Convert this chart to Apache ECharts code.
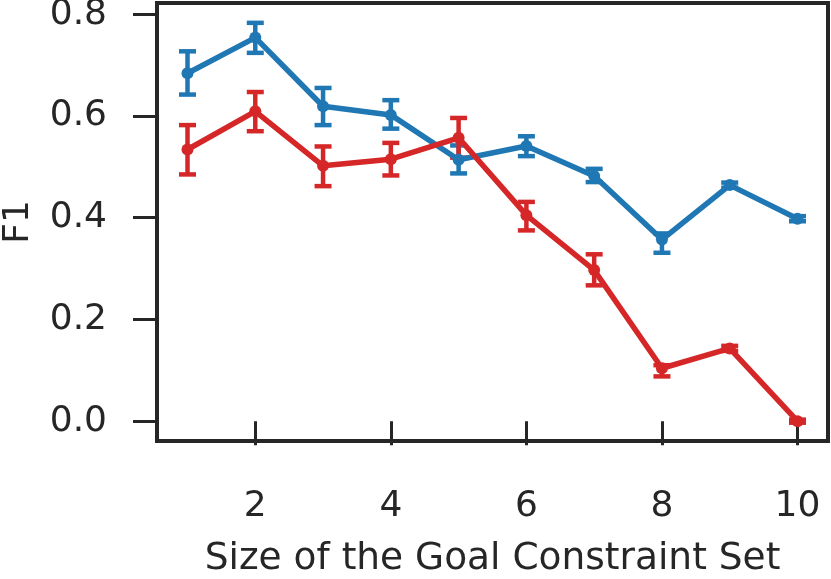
<!DOCTYPE html>
<html><head><meta charset="utf-8">
<script src="https://cdn.jsdelivr.net/npm/echarts@6/dist/echarts.min.js"></script>
<style>html,body{margin:0;padding:0;background:#fff}#c{width:831px;height:579px}</style>
</head><body><div id="c"></div>
<script>
const sizes = [1,2,3,4,5,6,7,8,9,10];
const blueMean = [0.684,0.754,0.619,0.602,0.514,0.541,0.482,0.357,0.464,0.398];
const blueLow  = [0.642,0.724,0.582,0.575,0.487,0.521,0.470,0.331,0.459,0.393];
const blueHigh = [0.727,0.783,0.655,0.631,0.542,0.560,0.496,0.369,0.469,0.403];
const redMean  = [0.534,0.609,0.502,0.515,0.557,0.405,0.297,0.104,0.143,0.000];
const redLow   = [0.485,0.570,0.462,0.483,0.518,0.375,0.267,0.088,0.138,-0.003];
const redHigh  = [0.582,0.647,0.540,0.547,0.596,0.431,0.328,0.110,0.148,0.003];
const xTicks = [2,4,6,8,10];
const yTicks = [0.0,0.2,0.4,0.6,0.8];

const BLUE = '#1f77b4', RED = '#d62728', INK = '#262626';
const FONT = 'DejaVu Sans';

function errSeries(low, high, color) {
  return {
    type: 'custom',
    data: sizes.map((x,i)=>[x, low[i], high[i]]),
    z: 3,
    renderItem: function(params, api) {
      const x = api.value(0);
      const p1 = api.coord([x, api.value(1)]);
      const p2 = api.coord([x, api.value(2)]);
      const hw = 8.5;
      const st = {stroke: color, lineWidth: 4.5};
      return {type:'group', children:[
        {type:'line', shape:{x1:p1[0],y1:p1[1],x2:p2[0],y2:p2[1]}, style:st},
        {type:'line', shape:{x1:p1[0]-hw,y1:p1[1],x2:p1[0]+hw,y2:p1[1]}, style:st},
        {type:'line', shape:{x1:p2[0]-hw,y1:p2[1],x2:p2[0]+hw,y2:p2[1]}, style:st}
      ]};
    }
  };
}
function lineSeries(vals, color) {
  return {
    type:'line', data: sizes.map((x,i)=>[x, vals[i]]),
    symbol:'circle', symbolSize:12, showSymbol:true,
    lineStyle:{color, width:5.5}, itemStyle:{color}, z:4, animation:false
  };
}

const chart = echarts.init(document.getElementById('c'));
chart.setOption({
  animation:false,
  grid:{left:157, right:3, top:3, bottom:138, show:true, borderColor:INK, borderWidth:4, backgroundColor:'#fff', outerBoundsMode:'none', containLabel:false},
  xAxis:{
    type:'value', min:0.55, max:10.45,
    name:'Size of the Goal Constraint Set', nameLocation:'middle', nameGap:99,
    nameTextStyle:{fontFamily:FONT, fontSize:37.5, color:INK},
    axisLine:{show:false},
    axisTick:{show:true, length:24, lineStyle:{color:INK, width:3}, customValues:xTicks},
    axisLabel:{fontFamily:FONT, fontSize:36, color:INK, margin:48, customValues:xTicks, formatter:v=>String(v)},
    splitLine:{show:false}
  },
  yAxis:{
    type:'value', min:-0.039, max:0.822,
    name:'F1', nameLocation:'middle', nameGap:120,
    nameTextStyle:{fontFamily:FONT, fontSize:36, color:INK},
    axisLine:{show:false},
    axisTick:{show:true, length:24, lineStyle:{color:INK, width:3}, customValues:yTicks},
    axisLabel:{fontFamily:FONT, fontSize:36, color:INK, margin:50, customValues:yTicks, formatter:v=>v.toFixed(1)},
    splitLine:{show:false}
  },
  series:[
    lineSeries(blueMean, BLUE), errSeries(blueLow, blueHigh, BLUE),
    lineSeries(redMean, RED), errSeries(redLow, redHigh, RED)
  ]
});
</script></body></html>
